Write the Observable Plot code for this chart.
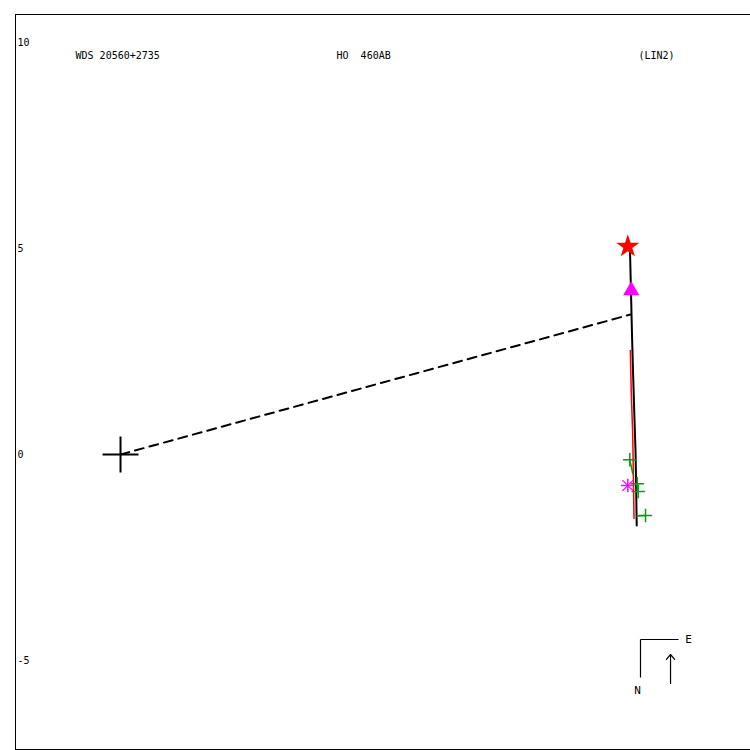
<!DOCTYPE html>
<html>
<head>
<meta charset="utf-8">
<script src="https://cdn.jsdelivr.net/npm/d3@7"></script>
<script src="https://cdn.jsdelivr.net/npm/@observablehq/plot@0.6"></script>
<style>
  html, body { margin: 0; padding: 0; background: #fff; overflow: hidden; }
  svg text { white-space: pre; }
</style>
</head>
<body>
<div id="chart"></div>
<script>
// ---- data (arcseconds, plot units) ----
const xDomain = [-2.549, 15.291];
const yDomain = [-7.160, 10.680];
const yTicks = [10, 5, 0, -5];

const headerText = ["WDS 20560+2735", "HO  460AB", "(LIN2)"];
const headerX = [-1.092, 5.243, 12.573];
const headerY = 9.684;

const primary = [{x: 0, y: 0}];

// current orbit (black)
const orbitX = [12.318, 12.354, 12.403, 12.427, 12.464, 12.488, 12.505, 12.517];
const orbitY = [5.170, 4.951, 2.888, 2.039, 0.825, 0.097, -0.874, -1.723];

// previous orbit (red)
const orbit2X = [12.386, 12.410, 12.444, 12.476];
const orbit2Y = [2.524, 1.481, 0.510, -1.553];

// line from primary to periastron (dashed)
const nodeX = [0, 12.379];
const nodeY = [0, 3.398];

// special points
const starPt = [{x: 12.313, y: 5.049}];
const trianglePt = [{x: 12.396, y: 3.981}];
const asteriskPt = [{x: 12.313, y: -0.752}];

// micrometer measures (green) and their predicted positions
const measX = [12.362, 12.541, 12.565, 12.743];
const measY = [-0.129, -0.711, -0.898, -1.481];
const predX = [12.439, 12.505, 12.508, 12.524];
const predY = [-0.485, -0.752, -0.903, -1.493];

// compass
const compassLegs = [
  {x1: 12.621, y1: -4.490, x2: 13.544, y2: -4.490},
  {x1: 12.621, y1: -4.490, x2: 12.621, y2: -5.413}
];
const compassLabels = [{x: 13.786, y: -4.490, t: "E"}, {x: 12.549, y: -5.728, t: "N"}];
const motionArrow = [{x1: 13.350, y1: -5.558, x2: 13.350, y2: -4.854}];

// ---- build ----
const orbit = orbitX.map((x, i) => ({x, y: orbitY[i]}));
const orbit2 = orbit2X.map((x, i) => ({x, y: orbit2Y[i]}));
const nodeLine = nodeX.map((x, i) => ({x, y: nodeY[i]}));
const measures = measX.map((x, i) => ({x, y: measY[i], px: predX[i], py: predY[i]}));
const header = headerText.map((t, i) => ({t, x: headerX[i], y: headerY}));
const ticks = yTicks.map(v => ({v, x: xDomain[0]}));

const chart = Plot.plot({
  width: 750,
  height: 750,
  marginLeft: 15,
  marginTop: 14,
  marginRight: 0,
  marginBottom: 1,
  x: {domain: xDomain, axis: null},
  y: {domain: yDomain, axis: null},
  style: {fontFamily: "'DejaVu Sans Mono', monospace", fontSize: "10px", background: "white", color: "black"},
  marks: [
    Plot.ruleX([xDomain[0]], {stroke: "black", strokeWidth: 1, shapeRendering: "crispEdges"}),
    Plot.ruleY([yDomain[0], yDomain[1]], {stroke: "black", strokeWidth: 1, shapeRendering: "crispEdges"}),
    Plot.text(ticks, {x: "x", y: "v", text: d => String(d.v), textAnchor: "start", dx: 2, fill: "black"}),
    Plot.text(header, {x: "x", y: "y", text: "t", textAnchor: "start", fill: "black"}),
    Plot.line(nodeLine, {x: "x", y: "y", stroke: "black", strokeWidth: 2, strokeDasharray: "9,6"}),
    Plot.line(orbit2, {x: "x", y: "y", stroke: "#ff0000", strokeWidth: 1.5, dx: -0.5}),
    Plot.line(orbit, {x: "x", y: "y", stroke: "black", strokeWidth: 2, dx: 0.5}),
    Plot.link(measures, {x1: "x", y1: "y", x2: "px", y2: "py", stroke: "#00a000", strokeWidth: 1.5}),
    Plot.dot(measures, {x: "x", y: "y", symbol: "plus", r: 4.4, stroke: "#00a000", strokeWidth: 1.5}),
    Plot.dot(primary, {x: "x", y: "y", symbol: "plus", r: 11.6, stroke: "black", strokeWidth: 2}),
    Plot.dot(starPt, {x: "x", y: "y", symbol: "star", r: 7.3, fill: "#ff0000", stroke: "none"}),
    Plot.dot(trianglePt, {x: "x", y: "y", symbol: "triangle", r: 6, fill: "#ff00ff", stroke: "none"}),
    Plot.dot(asteriskPt, {x: "x", y: "y", symbol: "plus", r: 4.4, stroke: "#ff00ff", strokeWidth: 1.5}),
    Plot.dot(asteriskPt, {x: "x", y: "y", symbol: "times", r: 5, stroke: "#ff00ff", strokeWidth: 1.2}),
    Plot.link(compassLegs, {x1: "x1", y1: "y1", x2: "x2", y2: "y2", stroke: "black", strokeWidth: 1.2}),
    Plot.text(compassLabels, {x: "x", y: "y", text: "t", fill: "black", fontSize: 11}),
    Plot.arrow(motionArrow, {x1: "x1", y1: "y1", x2: "x2", y2: "y2", stroke: "black", strokeWidth: 1.2, headLength: 8, headAngle: 80, insetEnd: 0, insetStart: 0})
  ]
});
document.getElementById("chart").append(chart);
</script>
</body>
</html>
